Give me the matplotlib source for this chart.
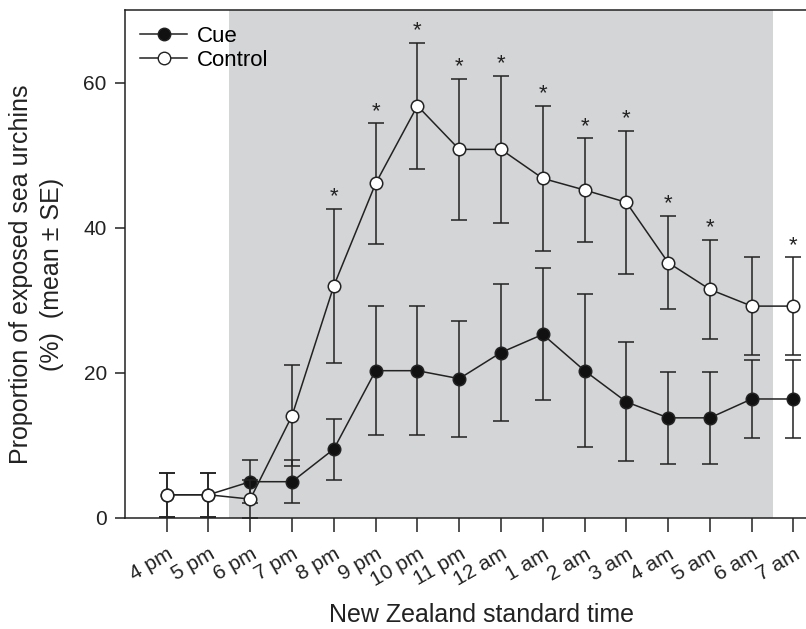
import matplotlib.pyplot as plt
from matplotlib.lines import Line2D

plt.rcParams['font.family'] = ['Liberation Sans', 'DejaVu Sans']

times = ['4 pm', '5 pm', '6 pm', '7 pm', '8 pm', '9 pm', '10 pm', '11 pm',
         '12 am', '1 am', '2 am', '3 am', '4 am', '5 am', '6 am', '7 am']
cue = [3.2, 3.2, 5.0, 5.0, 9.5, 20.3, 20.3, 19.2, 22.8, 25.3, 20.3, 16.0, 13.8, 13.8, 16.4, 16.4]
cue_se = [3.0, 3.0, 3.0, 3.0, 4.2, 8.9, 8.9, 8.0, 9.5, 9.1, 10.5, 8.2, 6.3, 6.3, 5.4, 5.4]
control = [3.2, 3.2, 2.6, 14.1, 32.0, 46.1, 56.8, 50.8, 50.8, 46.8, 45.2, 43.5, 35.2, 31.5, 29.2, 29.2]
control_se = [3.0, 3.0, 2.6, 7.0, 10.6, 8.3, 8.7, 9.7, 10.1, 10.0, 7.1, 9.9, 6.4, 6.8, 6.7, 6.7]
signif = [False, False, False, False, True, True, True, True, True, True,
          True, True, True, True, False, True]

x = list(range(len(times)))
col = '#222222'

fig = plt.figure(figsize=(8.06, 6.29), dpi=100)
ax = fig.add_axes([0.155, 0.1765, 0.845, 0.8075])

# night shading
ax.axvspan(1.5, 14.5, color='#d4d5d7', zorder=0, lw=0)

ax.errorbar(x, cue, yerr=cue_se, color=col, lw=1.1, elinewidth=1.1, capsize=5.5,
            capthick=1.1, marker='o', ms=9, mfc='#111111', mec=col, mew=1.1, zorder=3)
ax.errorbar(x, control, yerr=control_se, color=col, lw=1.1, elinewidth=1.1, capsize=5.5,
            capthick=1.1, marker='o', ms=9, mfc='white', mec=col, mew=1.1, zorder=4)

for xi, m, s, sig in zip(x, control, control_se, signif):
    if sig:
        ax.text(xi, m + s + 0.2, '*', ha='center', va='bottom', fontsize=16, color=col)

ax.set_xlim(-1, 15.3)
ax.set_ylim(0, 70)
ax.set_yticks([0, 20, 40, 60])
ax.set_xticks(x)
ax.set_xticklabels(times, rotation=30, ha='right', va='top', rotation_mode='anchor')

ax.tick_params(axis='both', direction='out', width=1.1, color=col,
               labelsize=15, labelcolor='#222222')
ax.tick_params(axis='y', length=7, pad=6)
ax.tick_params(axis='x', length=10, pad=9)

ax.spines['right'].set_visible(False)
for s in ['left', 'bottom', 'top']:
    ax.spines[s].set_linewidth(1.1)
    ax.spines[s].set_color(col)

ax.set_xlabel('New Zealand standard time', fontsize=18, color='#222222')
ax.xaxis.set_label_coords(0.523, -0.168)
ax.set_ylabel('Proportion of exposed sea urchins\n(%)  (mean ± SE)', fontsize=18,
              color='#222222', linespacing=1.35)
ax.yaxis.set_label_coords(-0.09, 0.48)

handles = [Line2D([], [], color=col, lw=1.1, marker='o', ms=9, mfc='#111111', mec=col),
           Line2D([], [], color=col, lw=1.1, marker='o', ms=9, mfc='white', mec=col)]
ax.legend(handles, ['Cue', 'Control'], loc='upper left', frameon=False, fontsize=16,
          handlelength=2.1, borderaxespad=0.3, borderpad=0.4, labelspacing=0.15,
          handletextpad=0.45)

fig.savefig('out.png', dpi=100)
